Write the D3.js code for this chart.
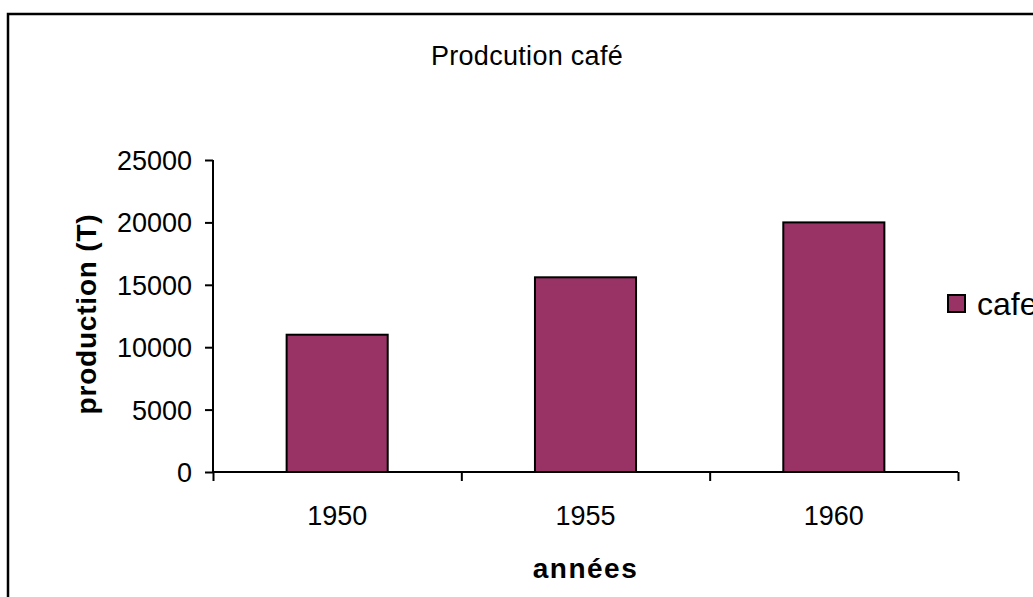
<!DOCTYPE html>
<html>
<head>
<meta charset="utf-8">
<script src="https://cdn.jsdelivr.net/npm/d3@7/dist/d3.min.js"></script>
<style>
  body { margin: 0; background: #fff; }
  text { font-family: "Liberation Sans", Arial, sans-serif; fill: #000; }
</style>
</head>
<body>
<div id="chart"></div>
<script>
var years = ["1950", "1955", "1960"];
var cafe = [11000, 15600, 20000];
var yTicks = [0, 5000, 10000, 15000, 20000, 25000];

var svgWidth = 1033;
var svgHeight = 597;

var plot = { left: 213, right: 958, top: 160, bottom: 472 };

var svg = d3.select("#chart")
  .append("svg")
  .attr("width", svgWidth)
  .attr("height", svgHeight);

// outer frame (runs off right/bottom like the original)
svg.append("rect")
  .attr("x", 8)
  .attr("y", 14)
  .attr("width", 1060)
  .attr("height", 620)
  .attr("fill", "none")
  .attr("stroke", "#000")
  .attr("stroke-width", 2.5);

var xBand = d3.scaleBand()
  .domain(years)
  .range([plot.left, plot.right])
  .paddingInner(0.593)
  .paddingOuter(0.2965);

var xEdges = d3.scaleLinear()
  .domain([0, years.length])
  .range([plot.left, plot.right]);

var yLinearScale = d3.scaleLinear()
  .domain([0, 25000])
  .range([plot.bottom, plot.top]);

// bars
svg.selectAll("rect.bar")
  .data(cafe)
  .enter()
  .append("rect")
  .attr("class", "bar")
  .attr("x", function(d, i) { return xBand(years[i]); })
  .attr("y", function(d) { return yLinearScale(d); })
  .attr("width", xBand.bandwidth())
  .attr("height", function(d) { return plot.bottom - yLinearScale(d); })
  .attr("fill", "#993366")
  .attr("stroke", "#000")
  .attr("stroke-width", 2);

// y axis
var leftAxis = d3.axisLeft(yLinearScale)
  .tickValues(yTicks)
  .tickSize(8)
  .tickPadding(13)
  .tickFormat(d3.format("d"));

var yAxisG = svg.append("g")
  .attr("transform", `translate(${plot.left}, 0)`)
  .call(leftAxis);
yAxisG.select(".domain").attr("d", `M0,${plot.top}V${plot.bottom}`);
yAxisG.selectAll("line, path").attr("stroke", "#000").attr("stroke-width", 2);
yAxisG.selectAll("text")
  .style("font-size", "27px")
  .attr("dy", "0.35em")
  .style("font-family", "Liberation Sans, Arial, sans-serif");

// x axis: ticks at category boundaries
var bottomAxis = d3.axisBottom(xEdges)
  .tickValues(d3.range(years.length + 1))
  .tickSize(9)
  .tickFormat("");

var xAxisG = svg.append("g")
  .attr("transform", `translate(0, ${plot.bottom})`)
  .call(bottomAxis);
xAxisG.select(".domain").attr("d", `M${plot.left},0H${plot.right}`);
xAxisG.selectAll("line, path").attr("stroke", "#000").attr("stroke-width", 2);

// category labels
svg.selectAll("text.xlab")
  .data(years)
  .enter()
  .append("text")
  .attr("class", "xlab")
  .attr("x", function(d) { return xBand(d) + xBand.bandwidth() / 2; })
  .attr("y", 525)
  .attr("text-anchor", "middle")
  .style("font-size", "27px")
  .text(function(d) { return d; });

// title
svg.append("text")
  .attr("x", 527)
  .attr("y", 65)
  .attr("text-anchor", "middle")
  .style("font-size", "27px")
  .style("letter-spacing", "0.3px")
  .text("Prodcution café");

// axis titles
svg.append("text")
  .attr("x", (plot.left + plot.right) / 2)
  .attr("y", 578)
  .attr("text-anchor", "middle")
  .style("font-size", "28px")
  .style("font-weight", "bold")
  .style("letter-spacing", "1.5px")
  .text("années");

svg.append("text")
  .attr("transform", "rotate(-90)")
  .attr("x", -314)
  .attr("y", 96)
  .attr("text-anchor", "middle")
  .style("font-size", "28px")
  .style("font-weight", "bold")
  .style("letter-spacing", "0.8px")
  .text("production (T)");

// legend
var legend = svg.append("g");
legend.append("rect")
  .attr("x", 948)
  .attr("y", 295)
  .attr("width", 17)
  .attr("height", 17)
  .attr("fill", "#993366")
  .attr("stroke", "#000")
  .attr("stroke-width", 2);
legend.append("text")
  .attr("x", 977)
  .attr("y", 315)
  .style("font-size", "32px")
  .text("cafe");
</script>
</body>
</html>
